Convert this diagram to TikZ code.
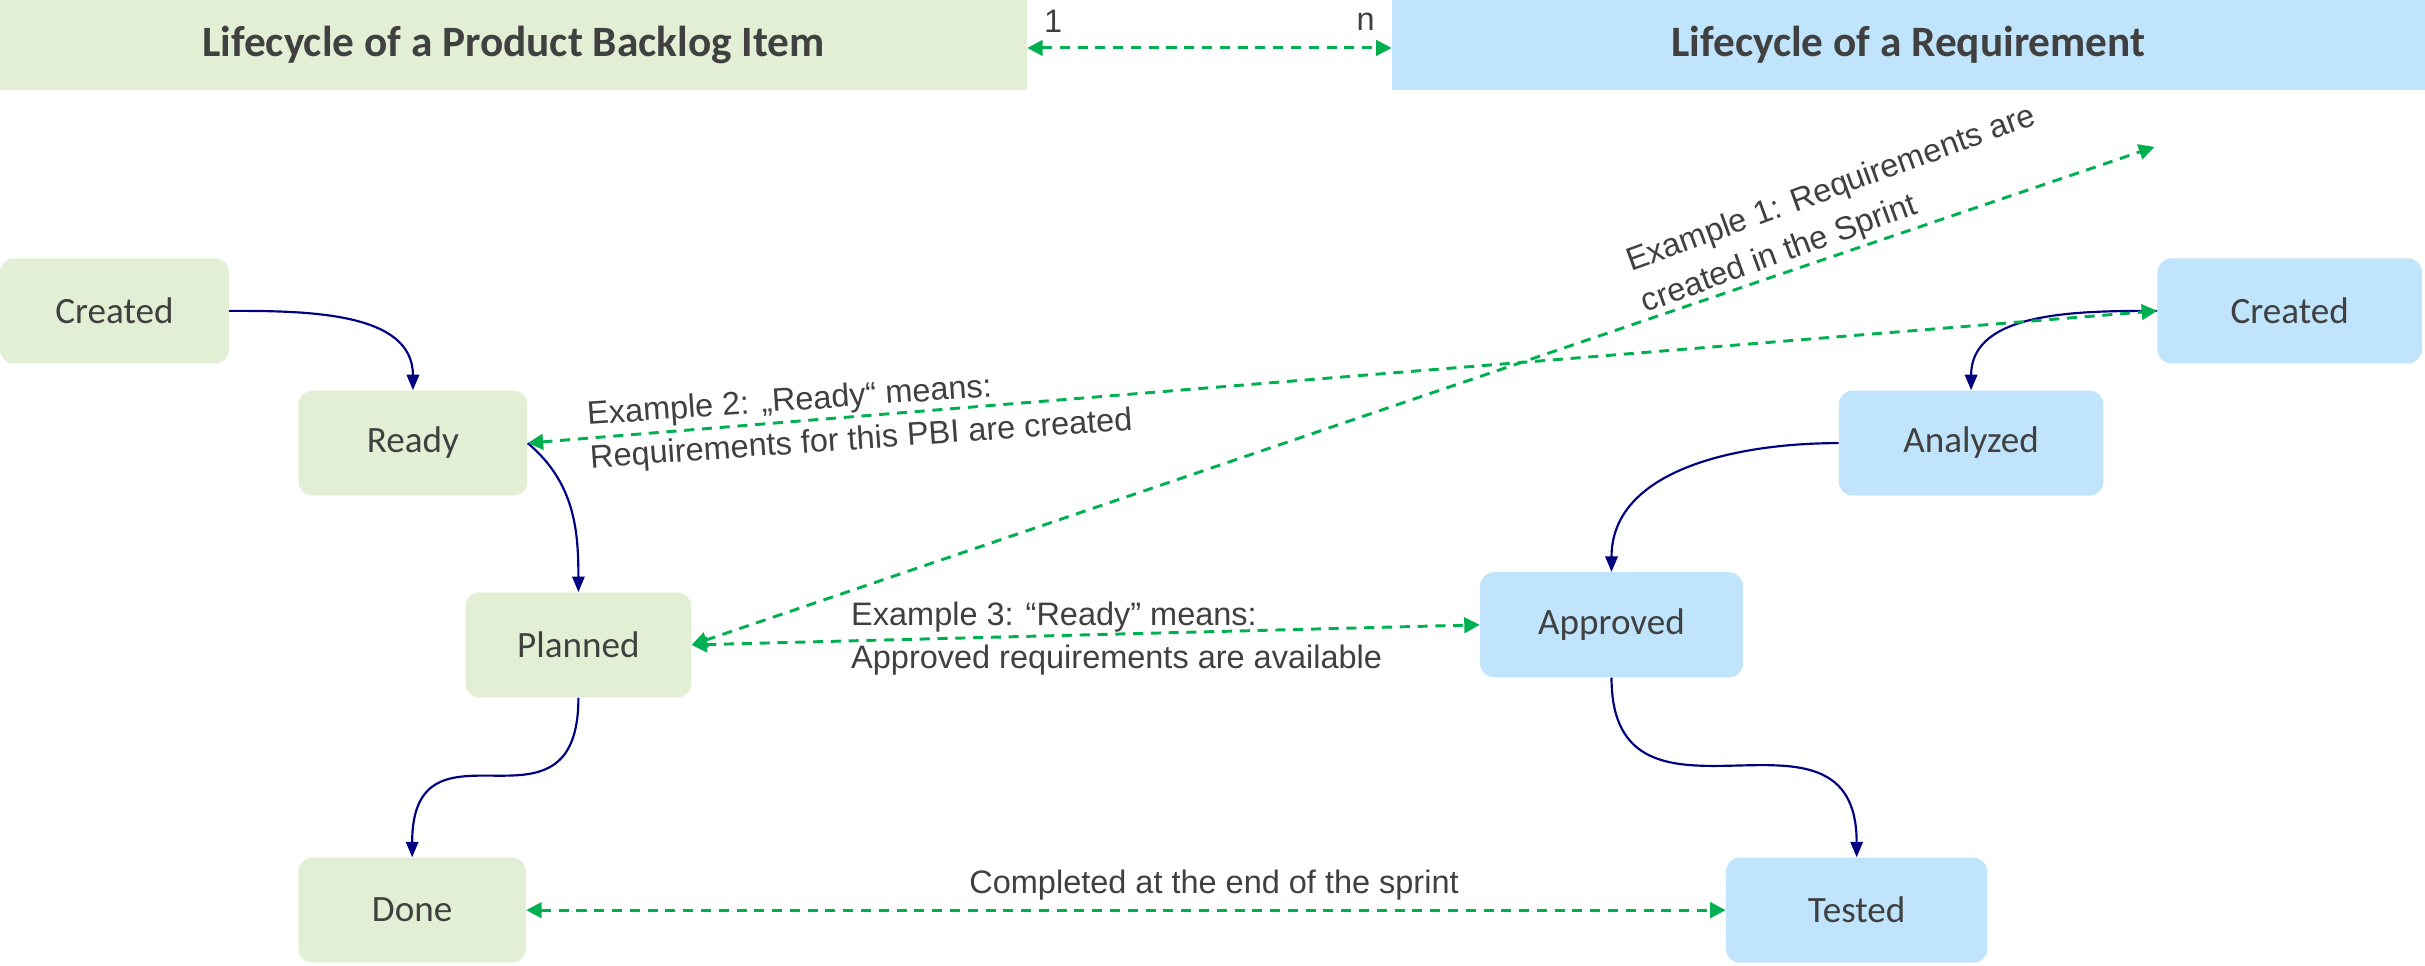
\documentclass[tikz,border=0pt]{standalone}
\usepackage{fontspec}
\setmainfont{Carlito}
\newfontfamily\arialf{Liberation Sans}
\usetikzlibrary{arrows.meta}
\definecolor{gfill}{HTML}{E3EFD5}
\definecolor{bfill}{HTML}{C0E4FC}
\definecolor{gc}{HTML}{00B050}
\definecolor{navyc}{HTML}{000080}
\definecolor{txt}{HTML}{404040}
\tikzset{
  stbox/.style={rounded corners=9pt, inner sep=0pt, minimum height=68pt, text=txt, font=\fontsize{24}{28}\selectfont},
  grn/.style={stbox, fill=gfill},
  blu/.style={stbox, fill=bfill},
  hdr/.style={inner sep=0pt, minimum height=58pt, text=txt, font=\bfseries\fontsize{28}{32}\selectfont},
  lbl/.style={text=txt, font=\arialf\fontsize{21}{28}\selectfont, inner sep=0pt, align=left},
  navyarrow/.style={draw=navyc, line width=1.4pt, -{Triangle[length=10pt,width=8pt]}},
  gdash/.style={draw=gc, line width=1.9pt, dash pattern=on 6.5pt off 5pt,
    {Triangle[length=10pt,width=10pt]}-{Triangle[length=10pt,width=10pt]}}
}
\begin{document}
\begin{tikzpicture}[x=1pt,y=-1pt]
\useasboundingbox (0,0) rectangle (1568,624);
% headers
\node[hdr, fill=gfill, minimum width=664pt] (hL) at (332,29) {Lifecycle of a Product Backlog Item};
\node[hdr, fill=bfill, minimum width=668pt] (hR) at (1234,29) {Lifecycle of a Requirement};
\node[lbl] (one) at (681,14) {1};
\node[lbl] (nn) at (883,14) {n};
% PBI lifecycle
\node[grn, minimum width=148pt] (cL) at (74,201) {Created};
\node[grn, minimum width=148pt] (rd) at (267,286.5) {Ready};
\node[grn, minimum width=146pt] (pl) at (374,417) {Planned};
\node[grn, minimum width=147pt] (dn) at (266.5,588.5) {Done};
% Requirement lifecycle
\node[blu, minimum width=171pt] (cR) at (1480.5,201) {Created};
\node[blu, minimum width=171pt] (an) at (1274.5,286.5) {Analyzed};
\node[blu, minimum width=170pt] (ap) at (1042,404) {Approved};
\node[blu, minimum width=169pt] (ts) at (1200.5,588.5) {Tested};
\coordinate (ex1end) at (1393,95);
% navy transitions
\draw[navyarrow] (cL.east) to[out=0,in=90] (rd.north);
\draw[navyarrow] (rd.east) to[out=-40,in=90] (pl.north);
\draw[navyarrow] (pl.south) to[out=-90,in=90,looseness=1.7] (dn.north);
\draw[navyarrow] (cR.west) to[out=180,in=90] (an.north);
\draw[navyarrow] (an.west) to[out=180,in=90] (ap.north);
\draw[navyarrow] (ap.south) to[out=-90,in=90,looseness=1.5] (ts.north);
% green relations
\draw[gdash] ([yshift=-2pt]hL.east) -- ([yshift=-2pt]hR.west);
\draw[gdash] (pl.east) -- (ex1end);
\draw[gdash] (rd.east) -- (cR.west);
\draw[gdash] (pl.east) -- (ap.west);
\draw[gdash] (dn.east) -- (ts.west);
% labels
\node[lbl, rotate=20] (l1) at (1189,136) {Example 1: Requirements are\\created in the Sprint};
\node[lbl, rotate=4] (l2) at (556,271) {Example 2: „Ready“ means:\\Requirements for this PBI are created};
\node[lbl] (l3) at (722,413) {Example 3: “Ready” means:\\Approved requirements are available};
\node[lbl] (l4) at (785,572) {Completed at the end of the sprint};
\end{tikzpicture}
\end{document}
